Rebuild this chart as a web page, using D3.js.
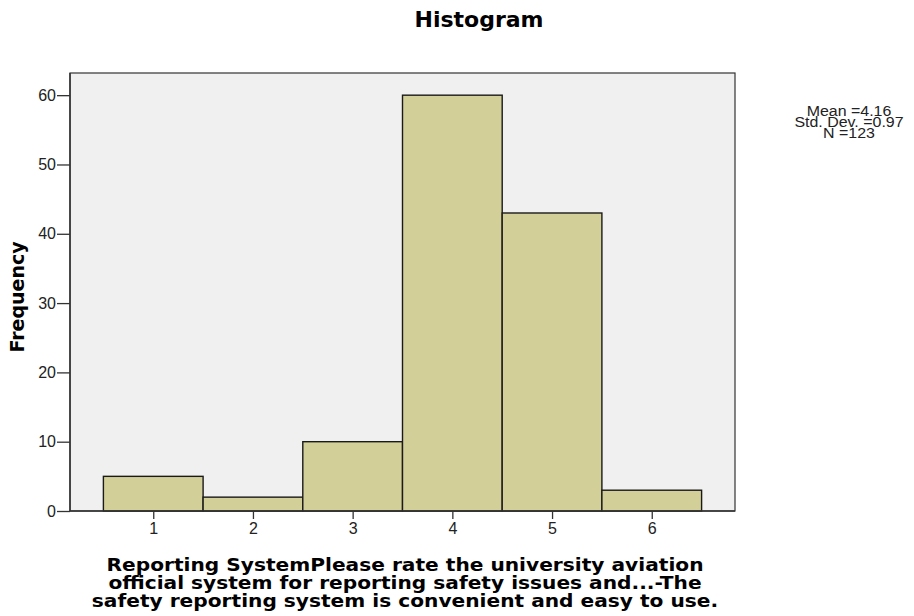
<!DOCTYPE html>
<html><head><meta charset="utf-8">
<script src="https://cdn.jsdelivr.net/npm/d3@7"></script>
<style>body{margin:0;background:#fff;}</style>
</head><body>
<svg id="c" width="914" height="616"></svg>
<script>
const categories = [1, 2, 3, 4, 5, 6];
const frequencies = [5, 2, 10, 60, 43, 3];
const yTicks = [0, 10, 20, 30, 40, 50, 60];
const statLines = ["Mean =4.16", "Std. Dev. =0.97", "N =123"];
const titleText = "Histogram";
const yTitle = "Frequency";
const xTitleLines = ["Reporting SystemPlease rate the university aviation",
  "official system for reporting safety issues and...-The",
  "safety reporting system is convenient and easy to use."];

const boldFont = "'DejaVu Sans', Verdana, sans-serif";
const plainFont = "'Liberation Sans', Arial, sans-serif";
const svg = d3.select("#c");
const L = 70, R = 735, T = 73, B = 511;
const x = d3.scaleLinear().domain([0.165, 6.835]).range([L, R]);
const y = d3.scaleLinear().domain([0, 63.2]).range([B, T]);

svg.append("rect").attr("x", L).attr("y", T).attr("width", R - L).attr("height", B - T)
  .attr("fill", "#f0f0f0").attr("stroke", "#333").attr("stroke-width", 1.2);

svg.selectAll("rect.bar").data(categories).join("rect").attr("class", "bar")
  .attr("x", d => x(d - 0.5)).attr("width", d => x(d + 0.5) - x(d - 0.5))
  .attr("y", (d, i) => y(frequencies[i])).attr("height", (d, i) => B - y(frequencies[i]))
  .attr("fill", "#d3cf98").attr("stroke", "#1a1a1a").attr("stroke-width", 1.4);

const yAxis = svg.append("g").attr("transform", `translate(${L},0)`)
  .call(d3.axisLeft(y).tickValues(yTicks).tickFormat(d3.format("d")).tickSize(13).tickPadding(1));
const xAxis = svg.append("g").attr("transform", `translate(0,${B})`)
  .call(d3.axisBottom(x).tickValues(categories).tickFormat(d3.format("d")).tickSize(8).tickPadding(4));
[yAxis, xAxis].forEach(g => {
  g.select(".domain").remove();
  g.selectAll("line").attr("stroke", "#333").attr("stroke-width", 1.3);
  g.selectAll("text").attr("font-size", 16).attr("fill", "#222")
    .style("font-family", plainFont);
});
svg.append("line").attr("x1", L).attr("x2", L).attr("y1", T).attr("y2", B).attr("stroke", "#333").attr("stroke-width", 1.5);
svg.append("line").attr("x1", L).attr("x2", R).attr("y1", B).attr("y2", B).attr("stroke", "#333").attr("stroke-width", 1.5);

svg.append("text").attr("x", 479).attr("y", 27).attr("text-anchor", "middle")
  .style("font-family", boldFont).attr("font-size", 22).attr("font-weight", "bold").text(titleText);

svg.append("text").attr("transform", "translate(24,297) rotate(-90)").attr("text-anchor", "middle")
  .style("font-family", boldFont).attr("font-size", 19).attr("font-weight", "bold").text(yTitle);

svg.append("g").attr("transform", "translate(405,0) scale(1.09,1)")
  .selectAll("text").data(xTitleLines).join("text")
  .attr("x", 0).attr("y", (d, i) => 571 + i * 18).attr("text-anchor", "middle")
  .style("font-family", boldFont).attr("font-size", 18.5).attr("font-weight", "bold").text(d => d);

svg.append("g").attr("transform", "translate(849,0) scale(1.1,1)")
  .selectAll("text").data(statLines).join("text")
  .attr("x", 0).attr("y", (d, i) => 116 + i * 11).attr("text-anchor", "middle")
  .style("font-family", plainFont).attr("font-size", 14.5).attr("fill", "#222").text(d => d);
</script>
</body></html>
